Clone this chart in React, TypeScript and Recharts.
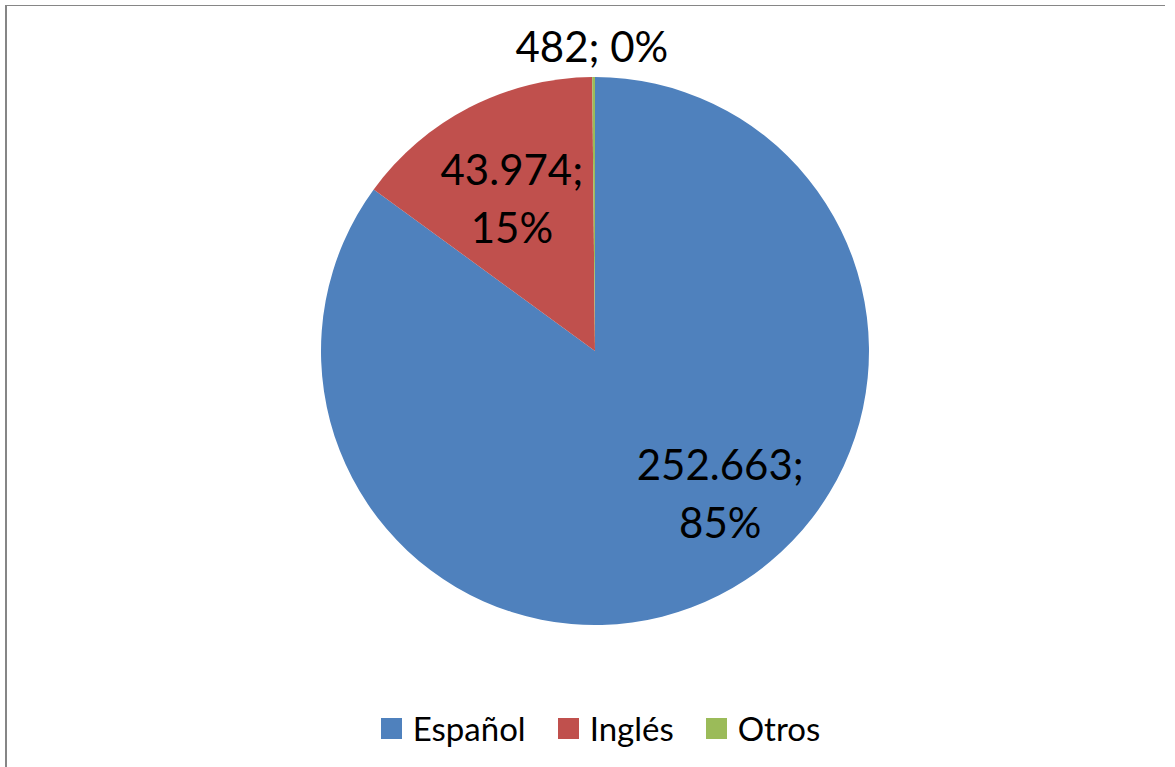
import React from 'react';
import { PieChart, Pie, Cell, Legend } from 'recharts';

// slices, clockwise from 12 o'clock
const languages = ['Español', 'Inglés', 'Otros'];
const speakers = [252663, 43974, 482];
const sliceColors = ['#4F81BD', '#C0504D', '#9BBB59'];

const chartData = languages.map((name, i) => ({ name, value: speakers[i] }));

// where each data label sits: distance from centre and angle nudge (Excel "best fit")
const labelPlacement = [
  { r: 190, shift: 14.3, twoLines: true },
  { r: 173, shift: 1.5, twoLines: true },
  { r: 305, shift: 0.3, twoLines: false },
];

const RADIAN = Math.PI / 180;
const FONT = 'Lato, "Open Sans", sans-serif';

const formatThousands = (v: number) =>
  String(v).replace(/\B(?=(\d{3})+(?!\d))/g, '.');

const renderLabel = (props: any) => {
  const { cx, cy, midAngle, value, percent, index } = props;
  const place = labelPlacement[index];
  const angle = (midAngle + place.shift) * RADIAN;
  const x = cx + place.r * Math.cos(-angle);
  const y = cy + place.r * Math.sin(-angle);
  const pct = `${Math.round(percent * 100)}%`;
  const num = `${formatThousands(value)};`;
  const common = {
    x,
    textAnchor: 'middle' as const,
    dominantBaseline: 'central' as const,
    fill: '#000',
    fontSize: 42,
    fontFamily: FONT,
  };
  if (!place.twoLines) {
    return (
      <text {...common} y={y}>
        {`${num} ${pct}`}
      </text>
    );
  }
  return (
    <g>
      <text {...common} y={y - 30}>
        {num}
      </text>
      <text {...common} y={y + 28}>
        {pct}
      </text>
    </g>
  );
};

const renderLegend = () => (
  <div
    style={{
      display: 'flex',
      justifyContent: 'center',
      alignItems: 'center',
      gap: 32,
      paddingLeft: 26,
      fontFamily: FONT,
      fontSize: 33,
      color: '#000',
      lineHeight: 1,
    }}
  >
    {languages.map((name, i) => (
      <div key={name} style={{ display: 'flex', alignItems: 'center' }}>
        <span
          style={{
            display: 'inline-block',
            width: 21,
            height: 21,
            background: sliceColors[i],
            marginRight: 11,
          }}
        />
        <span>{name}</span>
      </div>
    ))}
  </div>
);

export default function App() {
  return (
    <div
      style={{
        position: 'fixed',
        left: 0,
        top: 0,
        width: 1175,
        height: 767,
        background: '#fff',
        overflow: 'hidden',
      }}
    >
      {/* chart-area frame: only the left and top edges show in the original */}
      <div
        style={{
          position: 'absolute',
          left: 5,
          top: 5,
          width: 1160,
          height: 2,
          borderTop: '1px solid #868686',
        }}
      />
      <div
        style={{
          position: 'absolute',
          left: 5,
          top: 5,
          width: 2,
          height: 770,
          background: '#868686',
        }}
      />
      <div style={{ position: 'absolute', left: 0, top: 0 }}>
        <PieChart width={1175} height={767} margin={{ top: 0, right: 0, bottom: 0, left: 0 }}>
          <Pie
            data={chartData}
            dataKey="value"
            nameKey="name"
            cx={595}
            cy={351}
            outerRadius={274}
            startAngle={90}
            endAngle={-270}
            stroke="none"
            label={renderLabel}
            labelLine={false}
            isAnimationActive={false}
          >
            {chartData.map((d, i) => (
              <Cell key={d.name} fill={sliceColors[i]} />
            ))}
          </Pie>
          <Legend
            content={renderLegend}
            wrapperStyle={{ top: 712, left: 0, width: 1175 }}
          />
        </PieChart>
      </div>
    </div>
  );
}
